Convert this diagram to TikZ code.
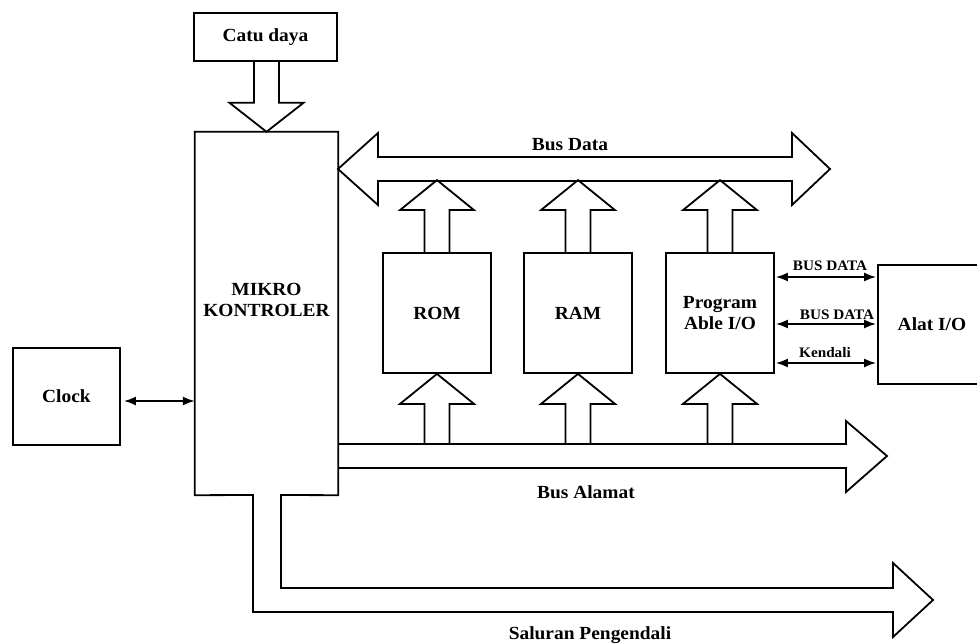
\documentclass[tikz,border=0pt]{standalone}
\usepackage{fontspec}
\setmainfont{Liberation Serif}[FakeStretch=1.05]
\usetikzlibrary{arrows.meta,calc}
\begin{document}
\begin{tikzpicture}[x=1pt,y=-1pt,
  ln/.style={line width=1.8pt,line join=miter},
  box/.style={draw,line width=1.8pt,inner sep=0pt,font=\fontsize{18.5}{21}\selectfont\bfseries,align=center},
  lbl/.style={inner sep=0pt,font=\fontsize{18.5}{21}\selectfont\bfseries,align=center},
  slbl/.style={inner sep=0pt,font=\fontsize{14.5}{16}\selectfont\bfseries},
  dbl/.style={line width=1.8pt,{Latex[length=12pt,width=9pt]}-{Latex[length=12pt,width=9pt]}}]
\useasboundingbox (0,0) rectangle (977,644);
\fill[white] (0,0) rectangle (977,644);

% boxes
\node[box,minimum width=143pt,minimum height=48pt] (catu) at (265.5,37) {Catu daya};
\node[inner sep=0pt,minimum width=143pt,minimum height=363pt] (mikro) at (266.5,313.5) {};
\node[lbl] (mikrotext) at (266.5,300) {MIKRO\\KONTROLER};
\node[box,minimum width=108pt,minimum height=120pt] (rom) at (437,313) {ROM};
\node[box,minimum width=108pt,minimum height=120pt] (ram) at (578,313) {RAM};
\node[box,minimum width=108pt,minimum height=120pt] (pio) at (720,313) {Program\\Able I/O};
\node[box,minimum width=107pt,minimum height=97pt] (clock) at (66.5,396.5) {Clock};
\node[box,minimum width=110pt,minimum height=119pt] (alat) at (933,324.5) {};
\node[lbl] (alattext) at (932,324.5) {Alat I/O};

% mikro outline with control-bus arrow
\draw[ln] (mikro.south east) -- (mikro.north east) -- (mikro.north west) -- (mikro.south west)
  -- (253,495) -- (253,612) -- (893,612) -- (893,637) -- (933,600) -- (893,563)
  -- (893,588) -- (281,588) -- (281,495) -- cycle;

% catu daya arrow
\draw[ln] ($(mikro.north)+(-12.5,-71)$) -- ++(0,42) -- ++(-24.5,0) -- (mikro.north)
  -- ++(37,-29) -- ++(-24.5,0) -- ++(0,-42);

% bus data
\draw[ln] (338,169) -- (378,133) -- (378,157) -- (792,157) -- (792,133) -- (830,169)
  -- (792,205) -- (792,181) -- (378,181) -- (378,205) -- cycle;

% bus alamat
\draw[ln] (338,444) -- (846,444) -- (846,421) -- (887,456) -- (846,492) -- (846,468) -- (338,468);

% up arrows
\foreach \n in {rom,ram,pio}{
  \draw[ln] ($(\n.north)+(-12.5,0)$) -- ++(0,-42) -- ++(-24.5,0) -- ($(\n.north)+(0,-72)$)
    -- ++(37,30) -- ++(-24.5,0) -- ($(\n.north)+(12.5,0)$);
  \draw[ln] ($(\n.south)+(-12.5,71)$) -- ++(0,-41) -- ++(-24.5,0) -- (\n.south)
    -- ++(37,30) -- ++(-24.5,0) -- ++(0,41);
}

% side arrows
\coordinate (p1) at ([yshift=36pt]pio.east);
\coordinate (p2) at ([yshift=-11pt]pio.east);
\coordinate (p3) at ([yshift=-50pt]pio.east);
\draw[dbl,shorten <=1pt,shorten >=1pt] (p1) -- (p1 -| alat.west);
\draw[dbl,shorten <=1pt,shorten >=1pt] (p2) -- (p2 -| alat.west);
\draw[dbl,shorten <=1pt,shorten >=1pt] (p3) -- (p3 -| alat.west);
\node[slbl] (l1) at (830,266) {BUS DATA};
\node[slbl] (l2) at (837,315) {BUS DATA};
\node[slbl] (l3) at (825,353) {Kendali};

% clock arrow
\coordinate (c1) at ([yshift=-4.5pt]clock.east);
\draw[dbl,shorten <=3pt] (c1) -- (c1 -| mikro.west);

% bus labels
\node[lbl] (bd) at (570,145) {Bus Data};
\node[lbl] (ba) at (586,492) {Bus Alamat};
\node[lbl] (sp) at (590,635) {Saluran Pengendali};
\end{tikzpicture}
\end{document}
